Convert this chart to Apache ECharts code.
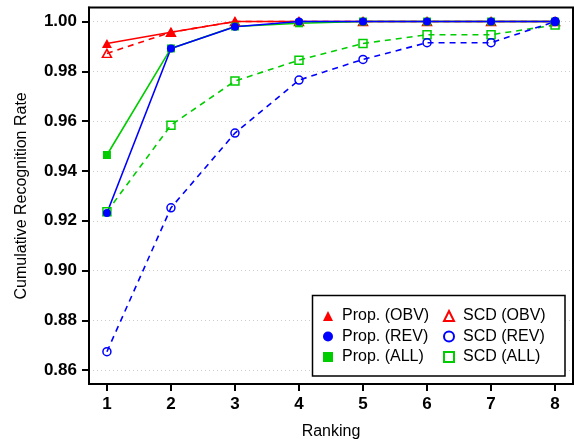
<!DOCTYPE html>
<html>
<head>
<meta charset="utf-8">
<script src="https://cdn.jsdelivr.net/npm/echarts@6/dist/echarts.min.js"></script>
<style>
  html, body { margin: 0; padding: 0; background: #fff; }
  #chart { width: 574px; height: 439px; }
</style>
</head>
<body>
<div id="chart"></div>
<script>
// ranking (x) and cumulative recognition rate per method
const ranks = [1, 2, 3, 4, 5, 6, 7, 8]
const propOBV = [0.9912, 0.9957, 1.0000, 1.0000, 1.0000, 1.0000, 1.0000, 1.0000]
const scdOBV = [0.9872, 0.9957, 1.0000, 1.0000, 1.0000, 1.0000, 1.0000, 1.0000]
const propREV = [0.9231, 0.9892, 0.9979, 1.0000, 1.0000, 1.0000, 1.0000, 1.0000]
const scdREV = [0.8674, 0.9252, 0.9552, 0.9765, 0.9848, 0.9915, 0.9915, 1.0000]
const propALL = [0.9464, 0.9892, 0.9980, 0.9993, 1.0000, 1.0000, 1.0000, 1.0000]
const scdALL = [0.9236, 0.9584, 0.9761, 0.9845, 0.9912, 0.9947, 0.9947, 0.9986]
const yTicks = [0.86, 0.88, 0.90, 0.92, 0.94, 0.96, 0.98, 1.00]

const RED = '#ff0000'
const BLUE = '#0000ff'
const GREEN = '#00cd00'
const FONT = 'Liberation Sans, Arial, sans-serif'

function pairs(vals) {
  return ranks.map(function (r, i) { return [r, vals[i]] })
}

// filled marker + solid line
function solid(name, vals, color, symbol, size) {
  return {
    name: name,
    type: 'line',
    data: pairs(vals),
    symbol: symbol,
    symbolSize: size,
    showAllSymbol: true,
    lineStyle: { color: color, width: 1.6, type: 'solid' },
    itemStyle: { color: color },
    emphasis: { disabled: true }
  }
}

// open marker + dashed line
function dashed(name, vals, color, symbol, size) {
  return {
    name: name,
    type: 'line',
    data: pairs(vals),
    symbol: symbol,
    symbolSize: size,
    showAllSymbol: true,
    lineStyle: { color: color, width: 1.6, type: [6, 5] },
    itemStyle: { color: 'rgba(0,0,0,0)', borderColor: color, borderWidth: 1.5 },
    emphasis: { disabled: true }
  }
}

function legendCol(left, items) {
  return {
    left: left,
    top: 303,
    orient: 'vertical',
    itemWidth: 10,
    itemHeight: 10,
    itemGap: 4.5,
    textStyle: { fontFamily: FONT, fontSize: 16, color: '#000', padding: [0, 0, 0, 4] },
    data: items
  }
}

const chart = echarts.init(document.getElementById('chart'))

chart.setOption({
  animation: false,
  backgroundColor: '#fff',
  grid: {
    left: 89,
    top: 7.6,
    width: 484,
    height: 376.5,
    containLabel: false,
    outerBoundsMode: 'none',
    show: true,
    borderColor: '#000',
    borderWidth: 2,
    backgroundColor: 'transparent'
  },
  xAxis: {
    type: 'value',
    min: 0.72,
    max: 8.28,
    name: 'Ranking',
    nameLocation: 'middle',
    nameGap: 39,
    nameTextStyle: { fontFamily: FONT, fontSize: 16, color: '#000' },
    axisLine: { show: true, onZero: false, lineStyle: { color: '#000', width: 2 } },
    axisTick: {
      show: true,
      customValues: ranks,
      inside: false,
      length: 7,
      lineStyle: { color: '#000', width: 2 }
    },
    splitLine: { show: false },
    axisLabel: {
      customValues: ranks,
      margin: 12,
      fontFamily: FONT,
      fontSize: 17,
      fontWeight: 'bold',
      color: '#000'
    }
  },
  yAxis: {
    type: 'value',
    min: 0.8544,
    max: 1.0056,
    name: 'Cumulative Recognition Rate',
    nameLocation: 'middle',
    nameGap: 59,
    nameTextStyle: { fontFamily: FONT, fontSize: 16, color: '#000' },
    axisLine: { show: true, onZero: false, lineStyle: { color: '#000', width: 2 } },
    axisTick: {
      show: true,
      customValues: yTicks,
      inside: false,
      length: 7,
      lineStyle: { color: '#000', width: 2 }
    },
    axisLabel: {
      customValues: yTicks,
      margin: 12,
      fontFamily: FONT,
      fontSize: 17,
      fontWeight: 'bold',
      color: '#000',
      formatter: function (v) { return v.toFixed(2) }
    },
    splitLine: {
      show: true,
      lineStyle: { color: '#cccccc', type: [1, 3], width: 1 }
    }
  },
  legend: [
    legendCol(318, [
      { name: 'Prop. (OBV)', icon: 'triangle' },
      { name: 'Prop. (REV)', icon: 'circle' },
      { name: 'Prop. (ALL)', icon: 'rect' }
    ]),
    legendCol(438, [
      { name: 'SCD (OBV)', icon: 'triangle' },
      { name: 'SCD (REV)', icon: 'circle' },
      { name: 'SCD (ALL)', icon: 'rect' }
    ])
  ],
  graphic: [{
    type: 'rect',
    z: 3,
    shape: { x: 312.5, y: 295.5, width: 252.5, height: 80.5 },
    style: { fill: '#fff', stroke: '#000', lineWidth: 1.5 }
  }],
  series: [
    dashed('SCD (OBV)', scdOBV, RED, 'triangle', [9, 8]),
    solid('Prop. (OBV)', propOBV, RED, 'triangle', [10, 9]),
    dashed('SCD (ALL)', scdALL, GREEN, 'rect', 8),
    solid('Prop. (ALL)', propALL, GREEN, 'rect', 8),
    solid('Prop. (REV)', propREV, BLUE, 'circle', 8),
    dashed('SCD (REV)', scdREV, BLUE, 'circle', 8)
  ]
})
</script>
</body>
</html>
